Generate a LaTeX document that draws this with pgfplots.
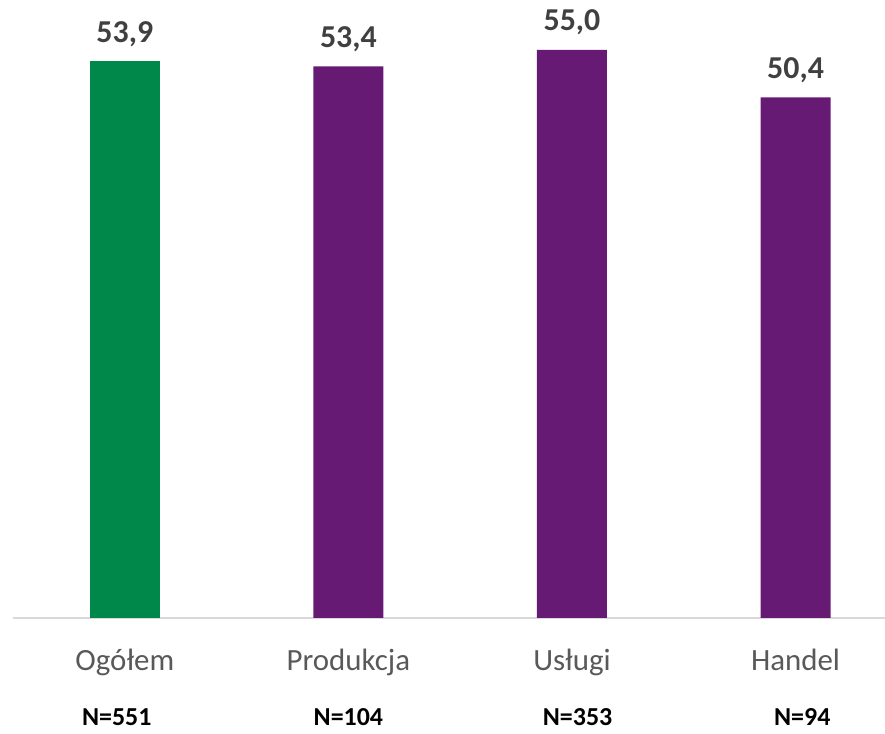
\documentclass[border=0pt]{standalone}
\usepackage{fontspec}
\setmainfont{Carlito}
\usepackage{pgfplots}
\pgfplotsset{compat=1.18}
\definecolor{zielony}{HTML}{00884A}
\definecolor{fiolet}{HTML}{671A73}
\definecolor{tekst}{HTML}{404040}
\definecolor{szary}{HTML}{595959}
\definecolor{linia}{HTML}{D9D9D9}
\begin{document}
\begin{tikzpicture}[x=1bp,y=1bp]
\useasboundingbox (0,0) rectangle (885,734);
\begin{axis}[
  at={(13bp,116bp)}, anchor=south west,
  scale only axis, width=872bp, height=619.8bp,
  xmin=-0.5, xmax=3.4, ymin=0, ymax=60,
  hide y axis,
  axis x line=bottom,
  x axis line style={draw=linia, line width=1.2bp, -},
  major tick length=0pt,
  xtick={0,1,2,3},
  xticklabels={Ogółem,Produkcja,Usługi,Handel},
  xticklabel style={font=\fontsize{31}{36}\selectfont, text=szary, anchor=base, yshift=-53bp},
  ybar, bar width=70bp, bar shift=0pt,
  nodes near coords,
  every node near coord/.append style={font=\bfseries\fontsize{32}{36}\selectfont, text=tekst, anchor=base, yshift=19bp},
  /pgf/number format/.cd, use comma, fixed, fixed zerofill, precision=1, assume math mode=true,
  /pgfplots/.cd,
  clip=false,
]
\addplot[fill=zielony, draw=none] coordinates {(0,53.9)};
\addplot[fill=fiolet, draw=none] coordinates {(1,53.4) (2,55.0) (3,50.4)};

\begin{scope}[every node/.style={font=\bfseries\fontsize{26}{30}\selectfont, anchor=base, inner sep=0pt, yshift=-108bp}]
\node at (axis cs:-0.036,0) {N=551};
\node at (axis cs:1.0,0) {N=104};
\node at (axis cs:2.025,0) {N=353};
\node at (axis cs:3.03,0) {N=94};
\end{scope}
\end{axis}
\end{tikzpicture}
\end{document}
